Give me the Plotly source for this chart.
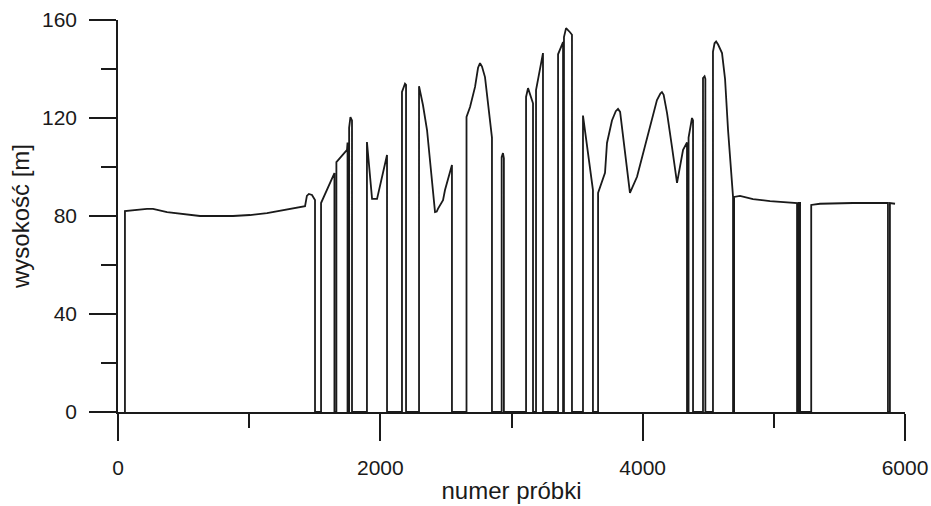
import plotly.graph_objects as go

# Altitude profile: sample number vs. height [m]; zero marks signal dropouts
sample = [
    53, 53, 221, 267, 374, 496, 625, 877, 1006, 1136, 1258, 1365, 1426, 1440, 1455, 1479, 1490, 1502, 1502,
    1548, 1548, 1639, 1650, 1650,
    1665, 1665, 1715, 1746, 1750, 1750,
    1762, 1762, 1772, 1784, 1784,
    1898, 1898, 1937, 1975, 2051, 2051,
    2165, 2165, 2188, 2196, 2196,
    2295, 2295, 2325, 2356, 2417, 2430, 2440, 2478, 2493, 2546, 2546,
    2657, 2657, 2684, 2722, 2745, 2760, 2775, 2798, 2821, 2851, 2851,
    2925, 2925, 2935, 2942, 2942,
    3111, 3111, 3126, 3164, 3164,
    3187, 3187, 3217, 3240, 3240,
    3355, 3355, 3385, 3393, 3393,
    3400, 3400, 3416, 3446, 3461, 3461,
    3545, 3545, 3583, 3621, 3621,
    3660, 3660, 3713, 3728, 3766, 3795, 3812, 3828, 3865, 3903, 3957, 4003, 4071, 4109, 4135,
    4147, 4160, 4186, 4224, 4262, 4308, 4338, 4338,
    4350, 4350, 4376, 4384, 4384,
    4460, 4460, 4472, 4478, 4478,
    4536, 4536, 4548, 4560, 4575, 4605, 4628, 4651, 4689, 4689,
    4697, 4697, 4742, 4841, 4971, 5177, 5177,
    5190, 5190, 5200, 5200,
    5285, 5285, 5352, 5482, 5604, 5863, 5870, 5870,
    5885, 5885, 5924,
]
height = [
    0, 82.0, 82.9, 82.9, 81.6, 80.8, 80.0, 80.0, 80.4, 81.2, 82.4, 83.7, 84.0, 88.2, 89.0, 88.6, 87.5, 86.5, 0,
    0, 85.3, 96.7, 97.5, 0,
    0, 102.0, 105.0, 107.0, 110.0, 0,
    0, 116.0, 120.4, 119.0, 0,
    0, 110.2, 87.0, 87.0, 104.9, 0,
    0, 130.6, 134.0, 133.5, 0,
    0, 133.0, 125.3, 115.1, 81.6, 81.8, 83.0, 86.5, 90.6, 100.8, 0,
    0, 120.4, 124.5, 132.7, 140.5, 142.4, 141.0, 136.7, 126.0, 112.0, 0,
    0, 104.0, 105.7, 103.5, 0,
    0, 128.6, 132.2, 126.0, 0,
    0, 131.4, 139.6, 146.5, 0,
    0, 146.0, 150.0, 151.0, 0,
    0, 153.0, 156.7, 155.0, 154.0, 0,
    0, 121.0, 105.7, 90.6, 0,
    0, 89.4, 97.6, 109.8, 119.0, 122.8, 123.7, 122.5, 105.7, 89.4, 96.0, 105.7, 119.0, 127.3, 130.0,
    130.6, 129.5, 122.0, 108.0, 93.5, 107.0, 110.0, 0,
    0, 112.0, 120.0, 119.0, 0,
    0, 136.3, 137.0, 136.0, 0,
    0, 147.0, 150.5, 151.2, 150.0, 146.5, 136.0, 115.0, 87.8, 0,
    0, 87.8, 88.2, 86.9, 86.1, 85.3, 0,
    0, 85.3, 85.3, 0,
    0, 84.5, 85.0, 85.3, 85.3, 85.3, 85.3, 0,
    0, 85.3, 85.0,
]

x_ticks = [0, 2000, 4000, 6000]
y_ticks = [0, 40, 80, 120, 160]

font_family = "Arial, Liberation Sans, sans-serif"
ink = "#1a1a1a"

fig = go.Figure(
    go.Scatter(
        x=sample,
        y=height,
        mode="lines",
        line=dict(color=ink, width=1.8),
        hoverinfo="skip",
    )
)

axis_common = dict(
    showgrid=False,
    zeroline=False,
    showline=True,
    linecolor=ink,
    linewidth=1.5,
    ticks="outside",
    ticklen=27,
    tickwidth=1.5,
    tickcolor=ink,
    tickfont=dict(family=font_family, size=21, color=ink),
)

fig.update_layout(
    width=931,
    height=506,
    margin=dict(l=118, r=26, t=20, b=94),
    paper_bgcolor="white",
    plot_bgcolor="white",
    showlegend=False,
    xaxis=dict(
        range=[0, 6000],
        tickvals=x_ticks,
        ticktext=[str(v) for v in x_ticks],
        minor=dict(dtick=1000, tick0=0, ticks="outside", ticklen=14, tickwidth=1.5, tickcolor=ink),
        ticklabelstandoff=9,
        title=dict(text="numer próbki", font=dict(family=font_family, size=24, color=ink), standoff=4),
        automargin=False,
        **axis_common,
    ),
    yaxis=dict(
        range=[0, 160],
        tickvals=y_ticks,
        ticktext=[str(v) for v in y_ticks],
        minor=dict(dtick=20, tick0=0, ticks="outside", ticklen=15, tickwidth=1.5, tickcolor=ink),
        ticklabelstandoff=8,
        title=dict(text="wysokość [m]", font=dict(family=font_family, size=24, color=ink), standoff=6),
        automargin=False,
        **axis_common,
    ),
)

fig.write_html("out.html")
